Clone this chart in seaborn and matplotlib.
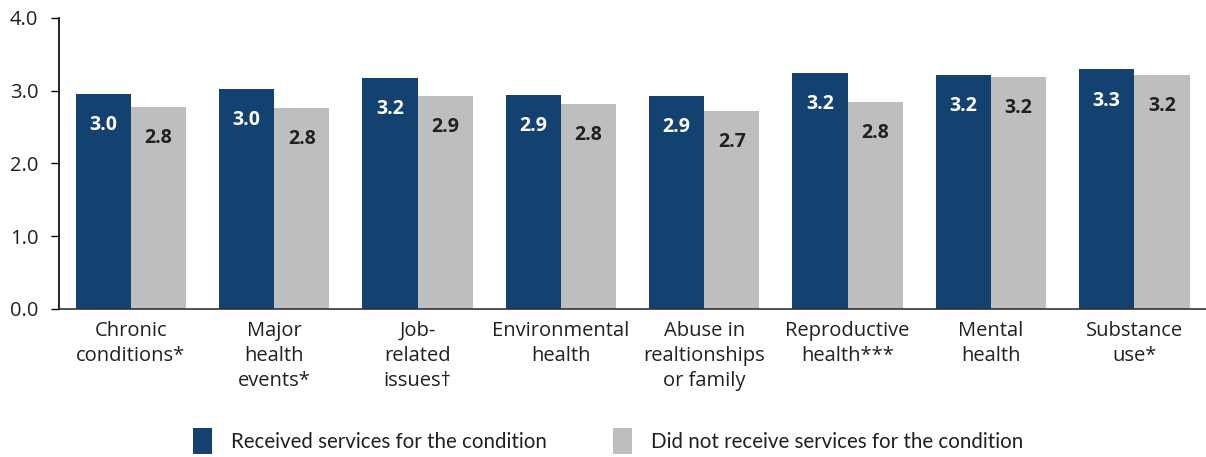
import pandas as pd
import matplotlib.pyplot as plt
import seaborn as sns

# Chart data
categories = [
    "Chronic\nconditions*",
    "Major\nhealth\nevents*",
    "Job-\nrelated\nissues\u2020",
    "Environmental\nhealth",
    "Abuse in\nrealtionships\nor family",
    "Reproductive\nhealth***",
    "Mental\nhealth",
    "Substance\nuse*",
]
received = [2.96, 3.02, 3.18, 2.94, 2.93, 3.24, 3.22, 3.29]
not_received = [2.78, 2.76, 2.93, 2.82, 2.72, 2.85, 3.19, 3.22]
received_labels = ["3.0", "3.0", "3.2", "2.9", "2.9", "3.2", "3.2", "3.3"]
not_received_labels = ["2.8", "2.8", "2.9", "2.8", "2.7", "2.8", "3.2", "3.2"]
series = ["Received services for the condition",
          "Did not receive services for the condition"]

df = pd.DataFrame({
    "category": categories * 2,
    "value": received + not_received,
    "group": [series[0]] * len(categories) + [series[1]] * len(categories),
})

sns.set_style("white")
plt.rcParams["font.family"] = ["Open Sans", "DejaVu Sans"]

fig = plt.figure(figsize=(12.06, 4.57), dpi=100)
ax = fig.add_axes([0.049, 0.324, 0.951, 0.637])

sns.barplot(
    data=df, x="category", y="value", hue="group",
    palette=["#134270", "#BDBEC0"], width=0.77, saturation=1,
    linewidth=0, edgecolor="none", ax=ax)

# Value labels inside the bars
for cont, labels, color in zip(ax.containers,
                               [received_labels, not_received_labels],
                               ["white", "#231f20"]):
    for bar, lab in zip(cont, labels):
        ax.annotate(lab, (bar.get_x() + bar.get_width() / 2, bar.get_height()),
                    xytext=(0, -22.5), textcoords="offset points",
                    ha="center", va="center", fontsize=14,
                    fontweight="bold", color=color)

ax.set_ylim(0, 4)
ax.set_xlim(-0.5, 7.5)
ax.set_yticks([0, 1, 2, 3, 4])
ax.set_yticklabels(["0.0", "1.0", "2.0", "3.0", "4.0"])
ax.set_xlabel("")
ax.set_ylabel("")
ax.tick_params(axis="y", which="both", left=True, length=6, width=1,
               color="black", labelsize=14.5, labelcolor="#231f20", pad=9)
ax.tick_params(axis="x", bottom=False, labelsize=14.5, labelcolor="#231f20", pad=5)
for lab in ax.get_xticklabels():
    lab.set_linespacing(1.33)

for s in ["top", "right"]:
    ax.spines[s].set_visible(False)
ax.spines["left"].set_color("black")
ax.spines["bottom"].set_color("#333333")
ax.spines["left"].set_linewidth(1.2)
ax.spines["bottom"].set_linewidth(1.2)

leg = ax.legend(loc="center", bbox_to_anchor=(0.504, 0.035),
                bbox_transform=fig.transFigure, ncol=2, frameon=False,
                prop={"family": "Lato", "size": 14.8},
                handlelength=0.95, handleheight=1.6,
                columnspacing=3.2, handletextpad=0.9)
for t in leg.get_texts():
    t.set_color("#231f20")

plt.savefig("out.png", dpi=100)
plt.close()
